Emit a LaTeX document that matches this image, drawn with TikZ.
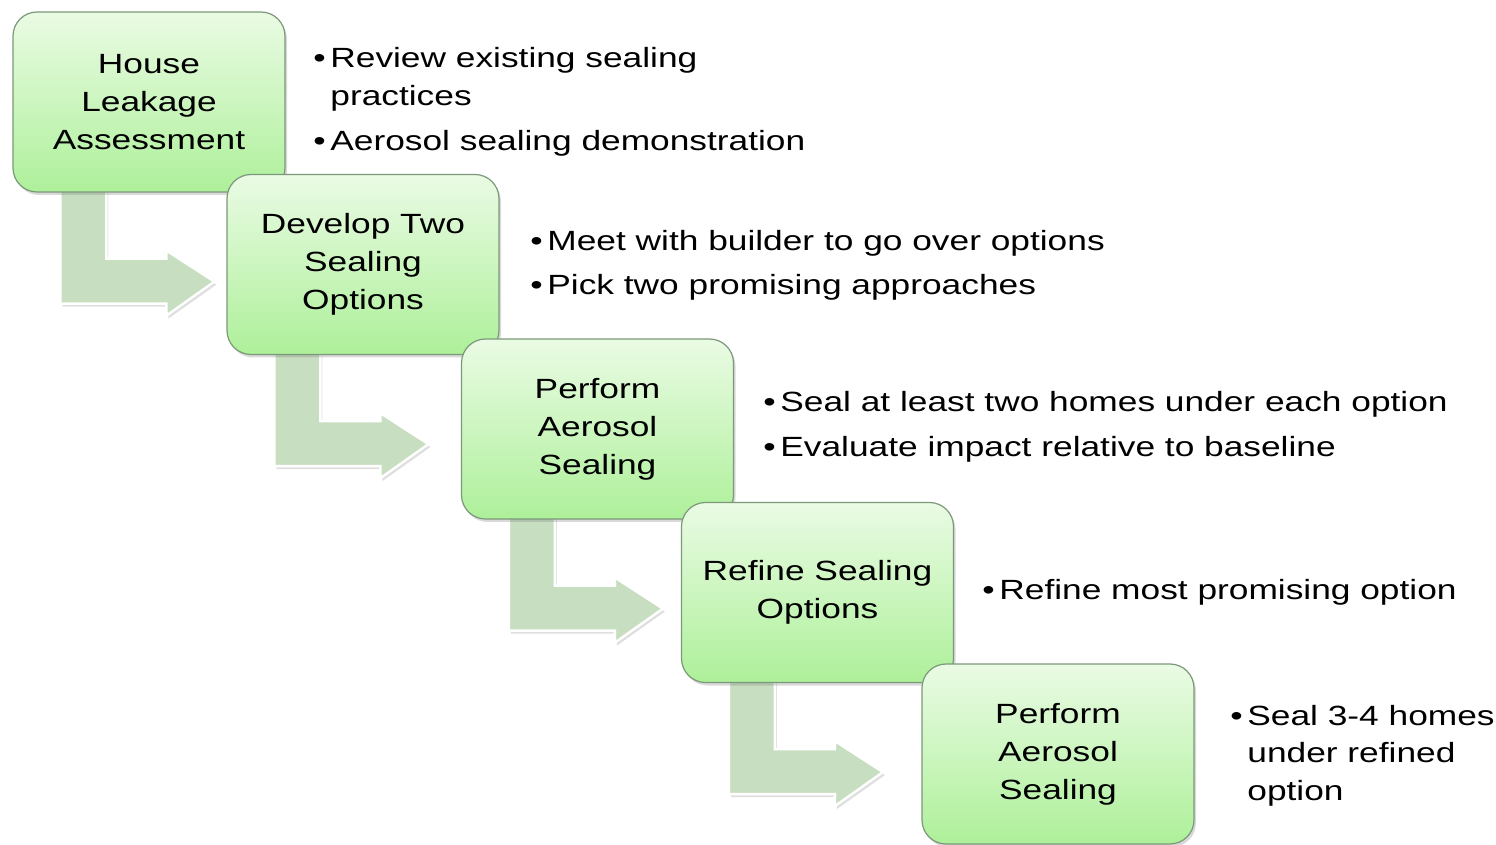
\documentclass[tikz,border=0pt]{standalone}
\usepackage{fontspec}
\setmainfont{Liberation Sans}[FakeStretch=1.27]
\usetikzlibrary{shadows,calc,backgrounds}
\definecolor{boxtop}{HTML}{EAFBE4}
\definecolor{boxbot}{HTML}{AEF09A}
\definecolor{boxline}{HTML}{7C987A}
\definecolor{arrowfill}{HTML}{C7DFC0}
\newcommand\mainfs{\fontsize{13.9pt}{19pt}\selectfont}
\newcommand\bul{\makebox[8.5pt][l]{•}}
\tikzset{
 stepbox/.style={draw=boxline, line width=0.6pt, rounded corners=12pt,
   top color=boxtop, bottom color=boxbot, minimum width=136pt, minimum height=90pt,
   inner sep=0pt, align=center, font=\mainfs,
   drop shadow={opacity=0.3, shadow xshift=1pt, shadow yshift=-1.5pt}},
 bent/.style={fill=arrowfill, draw=white, line width=1.2pt,
   drop shadow={opacity=0.25, shadow xshift=1pt, shadow yshift=-1.5pt}},
 item/.style={anchor=base west, inner sep=0pt, font=\mainfs}
}
\begin{document}
\begin{tikzpicture}[x=0.5pt,y=-0.5pt]
\useasboundingbox (0,0) rectangle (1496,845);
\node[stepbox] (b1) at (149,102) {House\\Leakage\\Assessment};
\node[stepbox] (b2) at (363,264.5) {Develop Two\\Sealing\\Options};
\node[stepbox] (b3) at (597.5,429) {Perform\\Aerosol\\Sealing};
\node[stepbox] (b4) at (817.5,592.5) {Refine Sealing\\Options};
\node[stepbox] (b5) at (1058,754) {Perform\\Aerosol\\Sealing};
\begin{pgfonlayer}{background}
\foreach \b in {b1,b2,b3,b4}{
 \path[bent] (\b.south west) ++(48,-10) -- ++(46,0) -- ++(0,76) -- ++(60,0) -- ++(0,-8)
   -- ++(48,31) -- ++(-48,34) -- ++(0,-12) -- ++(-106,0) -- cycle;
}
\end{pgfonlayer}
\node[item] (i1a) at (313,68) {\vtop{\hbox{\bul Review existing sealing}\hbox{\hspace*{8.5pt}practices}}};
\node[item] (i1b) at (313,151) {\bul Aerosol sealing demonstration};
\node[item] (i2a) at (530,251) {\bul Meet with builder to go over options};
\node[item] (i2b) at (530,295) {\bul Pick two promising approaches};
\node[item] (i3a) at (763,412) {\bul Seal at least two homes under each option};
\node[item] (i3b) at (763,457) {\bul Evaluate impact relative to baseline};
\node[item] (i4) at (982,600) {\bul Refine most promising option};
\node[item] (i5) at (1230,725) {\vtop{\hbox{\bul Seal 3-4 homes}\hbox{\hspace*{8.5pt}under refined}\hbox{\hspace*{8.5pt}option}}};
\end{tikzpicture}
\end{document}
